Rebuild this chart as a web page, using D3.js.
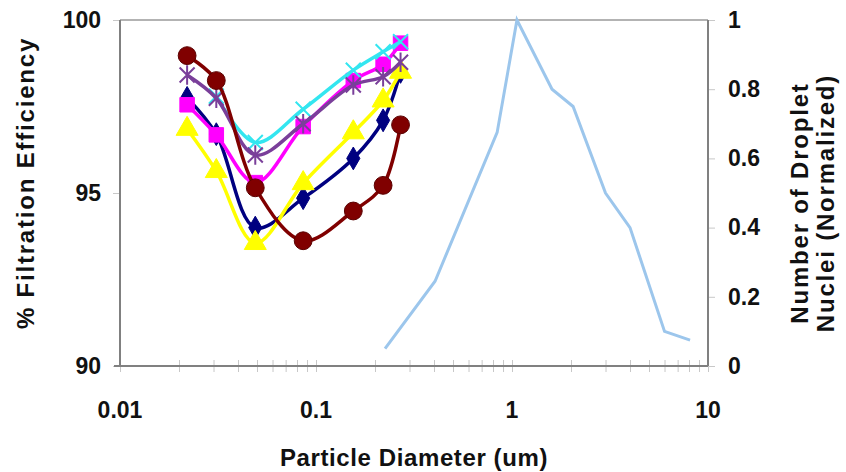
<!DOCTYPE html>
<html>
<head>
<meta charset="utf-8">
<script src="https://cdn.jsdelivr.net/npm/d3@7"></script>
<style>
  body { margin: 0; background: #fff; }
  svg { display: block; font-family: "Liberation Sans", Arial, sans-serif; font-weight: bold; }
</style>
</head>
<body>
<div id="chart"></div>
<script>
// particle diameters (um) used by the filter series
const diameters = [0.022, 0.031, 0.049, 0.086, 0.155, 0.22, 0.27];
const cyanDiameters = [0.031, 0.049, 0.086, 0.155, 0.22, 0.27];

// % filtration efficiency, one array per series
const navyEff = [97.75, 96.7, 94.0, 94.85, 96.0, 97.1, 98.5];
const magentaEff = [97.55, 96.68, 95.3, 96.92, 98.25, 98.72, 99.33];
const yellowEff = [96.85, 95.63, 93.55, 95.28, 96.75, 97.67, 98.5];
const cyanEff = [97.8, 96.46, 97.42, 98.55, 99.08, 99.37];
const purpleEff = [98.41, 97.74, 96.1, 97.0, 98.12, 98.36, 98.78];
const redEff = [98.97, 98.25, 95.15, 93.62, 94.48, 95.22, 96.97];

// droplet nuclei distribution (right axis)
const nucleiDiameters = [0.225, 0.405, 0.84, 1.06, 1.6, 2.05, 3.0, 4.0, 6.0, 8.1];
const nucleiCount = [0.05, 0.245, 0.675, 1.0, 0.8, 0.75, 0.5, 0.4, 0.1, 0.075];

// axis ticks
const leftTicks = [90, 95, 100];
const rightTicks = [0, 0.2, 0.4, 0.6, 0.8, 1];
const decadeTicks = [0.01, 0.1, 1, 10];

const W = 846, H = 472;
const m = { left: 120, right: 138, top: 20, bottom: 106 };

const svg = d3.select("#chart").append("svg")
  .attr("width", W).attr("height", H);

const x = d3.scaleLog().domain([0.01, 10]).range([m.left, W - m.right]);
const yL = d3.scaleLinear().domain([90, 100]).range([H - m.bottom, m.top]);
const yR = d3.scaleLinear().domain([0, 1]).range([H - m.bottom, m.top]);

// minor + major ticks for log axis
const minorTicks = [];
[0.01, 0.1, 1].forEach(dec => { for (let k = 1; k < 10; k++) minorTicks.push(dec * k); });
minorTicks.push(10);

// bottom axis
const gx = svg.append("g")
  .attr("transform", `translate(0,${H - m.bottom})`)
  .call(d3.axisBottom(x).tickValues(minorTicks).tickSize(0).tickFormat(""));
gx.select(".domain").remove();
gx.selectAll(".tick line").attr("y1", -6).attr("y2", 6).attr("stroke", "#c8c8c8").attr("stroke-width", 1);

svg.append("g").selectAll("text")
  .data(decadeTicks).join("text")
  .attr("x", d => x(d)).attr("y", H - m.bottom + 52)
  .attr("text-anchor", "middle")
  .attr("font-size", 23).attr("fill", "#111")
  .text(d => d3.format("")(d));

// left axis
const gl = svg.append("g")
  .attr("transform", `translate(${m.left},0)`)
  .call(d3.axisLeft(yL).tickValues(leftTicks).tickSize(7).tickPadding(12));
gl.select(".domain").remove();
gl.selectAll(".tick line").attr("stroke", "#c8c8c8");
gl.selectAll(".tick text").attr("font-size", 23).attr("fill", "#111").attr("font-family", null);

// right axis
const gr = svg.append("g")
  .attr("transform", `translate(${W - m.right},0)`)
  .call(d3.axisRight(yR).tickValues(rightTicks).tickSize(7).tickPadding(13)
    .tickFormat(d => d3.format("")(+d.toFixed(1))));
gr.select(".domain").remove();
gr.selectAll(".tick line").attr("stroke", "#c8c8c8");
gr.selectAll(".tick text").attr("font-size", 23).attr("fill", "#111").attr("font-family", null);

// frame
svg.append("line").attr("x1", m.left).attr("x2", W - m.right).attr("y1", m.top).attr("y2", m.top)
  .attr("stroke", "#9a9a9a").attr("stroke-width", 1.5);
svg.append("line").attr("x1", m.left).attr("x2", m.left).attr("y1", m.top).attr("y2", H - m.bottom)
  .attr("stroke", "#808080").attr("stroke-width", 2);
svg.append("line").attr("x1", W - m.right).attr("x2", W - m.right).attr("y1", m.top).attr("y2", H - m.bottom)
  .attr("stroke", "#808080").attr("stroke-width", 2);
svg.append("line").attr("x1", m.left - 6).attr("x2", W - m.right).attr("y1", H - m.bottom).attr("y2", H - m.bottom)
  .attr("stroke", "#808080").attr("stroke-width", 2);

// axis titles
svg.append("text")
  .attr("transform", `translate(34,${(m.top + H - m.bottom) / 2 - 10}) rotate(-90)`)
  .attr("text-anchor", "middle").attr("font-size", 24).attr("letter-spacing", 1.8).attr("fill", "#111")
  .text("% Filtration Efficiency");
svg.append("text")
  .attr("x", (m.left + W - m.right) / 2).attr("y", H - 6)
  .attr("text-anchor", "middle").attr("font-size", 24).attr("letter-spacing", 0.6).attr("fill", "#111")
  .text("Particle Diameter (um)");
const rt = svg.append("text")
  .attr("transform", `translate(808,${(m.top + H - m.bottom) / 2 + 10}) rotate(-90)`)
  .attr("text-anchor", "middle").attr("font-size", 24).attr("letter-spacing", 1.8).attr("fill", "#111");
rt.append("tspan").attr("x", 0).attr("dy", 0).text("Number of Droplet");
rt.append("tspan").attr("x", 0).attr("dy", 26).text("Nuclei (Normalized)");

// nuclei distribution line
svg.append("path")
  .datum(nucleiDiameters.map((d, i) => [d, nucleiCount[i]]))
  .attr("fill", "none").attr("stroke", "#9cc6ec").attr("stroke-width", 3)
  .attr("d", d3.line().x(d => x(d[0])).y(d => yR(d[1])));

// efficiency series
const smooth = d3.line().curve(d3.curveCatmullRom.alpha(0.5))
  .x(d => x(d[0])).y(d => yL(d[1]));

const xPath = s => `M${-s},${-s}L${s},${s}M${-s},${s}L${s},${-s}`;
const starPath = s => `M${-s},${-s}L${s},${s}M${-s},${s}L${s},${-s}M0,${-s * 1.3}L0,${s * 1.3}`;

const series = [
  { name: "navy", xs: diameters, ys: navyEff, color: "#000080", marker: d3.symbol().type(d3.symbolDiamond).size(150)() },
  { name: "magenta", xs: diameters, ys: magentaEff, color: "#ff00ff", marker: d3.symbol().type(d3.symbolSquare).size(210)() },
  { name: "yellow", xs: diameters, ys: yellowEff, color: "#ffff00", marker: d3.symbol().type(d3.symbolTriangle).size(210)() },
  { name: "cyan", xs: cyanDiameters, ys: cyanEff, color: "#33e6f0", marker: xPath(7.5), stroke: true },
  { name: "purple", xs: diameters, ys: purpleEff, color: "#7a3f9a", marker: starPath(7.5), stroke: true },
  { name: "red", xs: diameters, ys: redEff, color: "#800000", marker: d3.symbol().type(d3.symbolCircle).size(250)() }
];

series.forEach(s => {
  const pts = s.xs.map((d, i) => [d, s.ys[i]]);
  const g = svg.append("g").attr("class", "series-" + s.name);
  g.append("path").datum(pts)
    .attr("fill", "none").attr("stroke", s.color).attr("stroke-width", 3.5)
    .attr("d", smooth);
  g.selectAll("path.mk").data(pts).join("path")
    .attr("class", "mk")
    .attr("transform", d => `translate(${x(d[0])},${yL(d[1])})`)
    .attr("d", s.marker)
    .attr("fill", s.stroke ? "none" : s.color)
    .attr("stroke", s.stroke ? s.color : (s.name === "red" ? "#5a0000" : s.color))
    .attr("stroke-width", s.stroke ? 2 : 1);
});
</script>
</body>
</html>
